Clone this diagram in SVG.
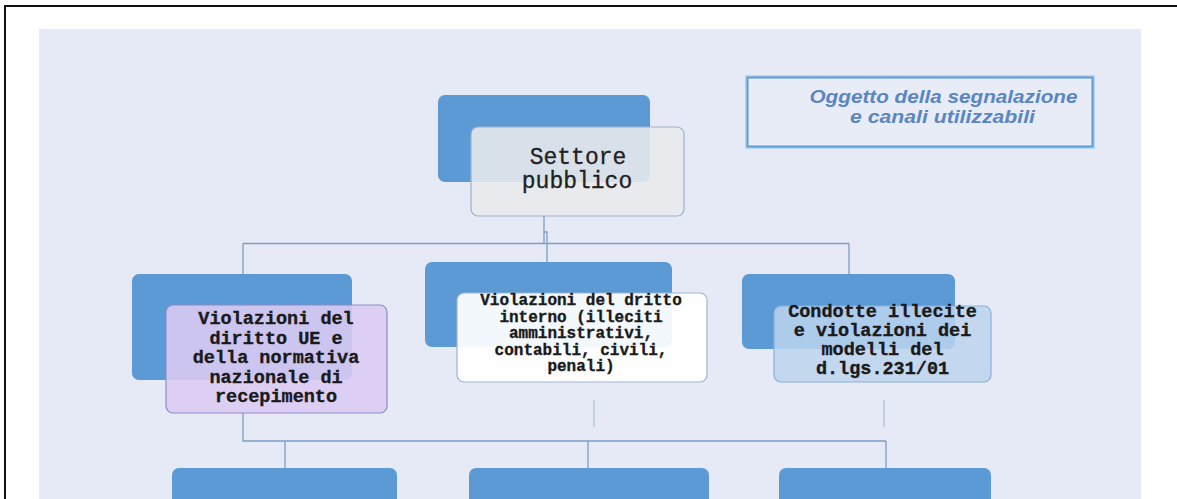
<svg xmlns="http://www.w3.org/2000/svg" width="1177" height="499" viewBox="0 0 1177 499">
<style>
.blue{fill:#5b9ad4}
.conn{fill:none;stroke:#7e9cc4;stroke-width:1.3}
.faint{fill:none;stroke:#aebcd2;stroke-width:1.2}
.t{font-family:"Liberation Mono","Courier New",monospace;font-weight:bold;fill:#1a1a1a;text-anchor:middle;stroke:#1a1a1a;stroke-width:0.35}
</style>
<rect x="0" y="0" width="1177" height="499" fill="#ffffff"/>
<rect x="39" y="29" width="1102" height="470" fill="#e6eaf6"/>
<path d="M5 499 V6 H1177" fill="none" stroke="#111" stroke-width="2"/>

<g id="legend">
<rect x="747.5" y="77.5" width="345" height="69" fill="none" stroke="#9cc3ec" stroke-width="5" opacity="0.6"/>
<rect x="747.5" y="77.5" width="345" height="69" fill="#e8ecf7" stroke="#5b9ad4" stroke-width="2"/>
<text font-family="'Liberation Sans',Arial,sans-serif" font-weight="bold" font-style="italic" font-size="19" fill="#5b86c1" text-anchor="middle"><tspan x="943.5" y="103" textLength="268" lengthAdjust="spacingAndGlyphs">Oggetto della segnalazione</tspan><tspan x="942.5" y="123" textLength="185" lengthAdjust="spacingAndGlyphs">e canali utilizzabili</tspan></text>
</g>

<g id="connectors">
<path class="conn" d="M544 216 V243.5 M544 232 H547 V262 M243 243.5 H849 M243 243.5 V274 M849 243.5 V274"/>
<path class="conn" d="M243 413 V441 H886 M285 441 V468 M588 441 V468 M886 441 V468"/>
<path class="faint" d="M594 400 V427 M884 400 V427"/>
</g>

<g id="node-settore">
<rect class="blue" x="438" y="95" width="212" height="87" rx="7"/>
<rect x="471" y="127" width="213" height="89" rx="7" fill="#e9e9ec" fill-opacity="0.88" stroke="#9fb0c8" stroke-width="1.2"/>
<text font-family="'Liberation Mono','Courier New',monospace" font-size="23" fill="#222" text-anchor="middle" stroke="#222" stroke-width="0.3"><tspan x="578" y="164">Settore</tspan><tspan x="577" y="188">pubblico</tspan></text>
</g>

<g id="node-ue">
<rect class="blue" x="132" y="274" width="220" height="106" rx="7"/>
<rect x="166" y="305" width="221" height="108" rx="7" fill="#dccbf4" fill-opacity="0.88" stroke="#9189c6" stroke-width="1.2"/>
<text class="t" font-size="18.5"><tspan x="276" y="324">Violazioni del</tspan><tspan x="276" y="344">diritto UE e</tspan><tspan x="276" y="363">della normativa</tspan><tspan x="276" y="383">nazionale di</tspan><tspan x="276" y="402">recepimento</tspan></text>
</g>

<g id="node-interno">
<rect class="blue" x="425" y="262" width="247" height="85" rx="7"/>
<rect x="457" y="293" width="250" height="89" rx="7" fill="#ffffff" fill-opacity="0.93" stroke="#9fb3cf" stroke-width="1.2"/>
<text class="t" font-size="16"><tspan x="581" y="305">Violazioni del dritto</tspan><tspan x="581" y="322">interno (illeciti</tspan><tspan x="581" y="338">amministrativi,</tspan><tspan x="581" y="355">contabili, civili,</tspan><tspan x="581" y="371">penali)</tspan></text>
</g>

<g id="node-231">
<rect class="blue" x="742" y="274" width="213" height="75" rx="7"/>
<rect x="774" y="306" width="217" height="76" rx="7" fill="#bcd3ed" fill-opacity="0.85" stroke="#8cafdb" stroke-width="1.2"/>
<text class="t" font-size="18.5"><tspan x="882.5" y="317">Condotte illecite</tspan><tspan x="882.5" y="336">e violazioni dei</tspan><tspan x="882.5" y="355">modelli del</tspan><tspan x="882.5" y="374">d.lgs.231/01</tspan></text>
</g>

<g id="node-b1"><rect class="blue" x="172" y="468" width="225" height="45" rx="7"/></g>
<g id="node-b2"><rect class="blue" x="469" y="468" width="240" height="45" rx="7"/></g>
<g id="node-b3"><rect class="blue" x="779" y="468" width="212" height="45" rx="7"/></g>
</svg>
